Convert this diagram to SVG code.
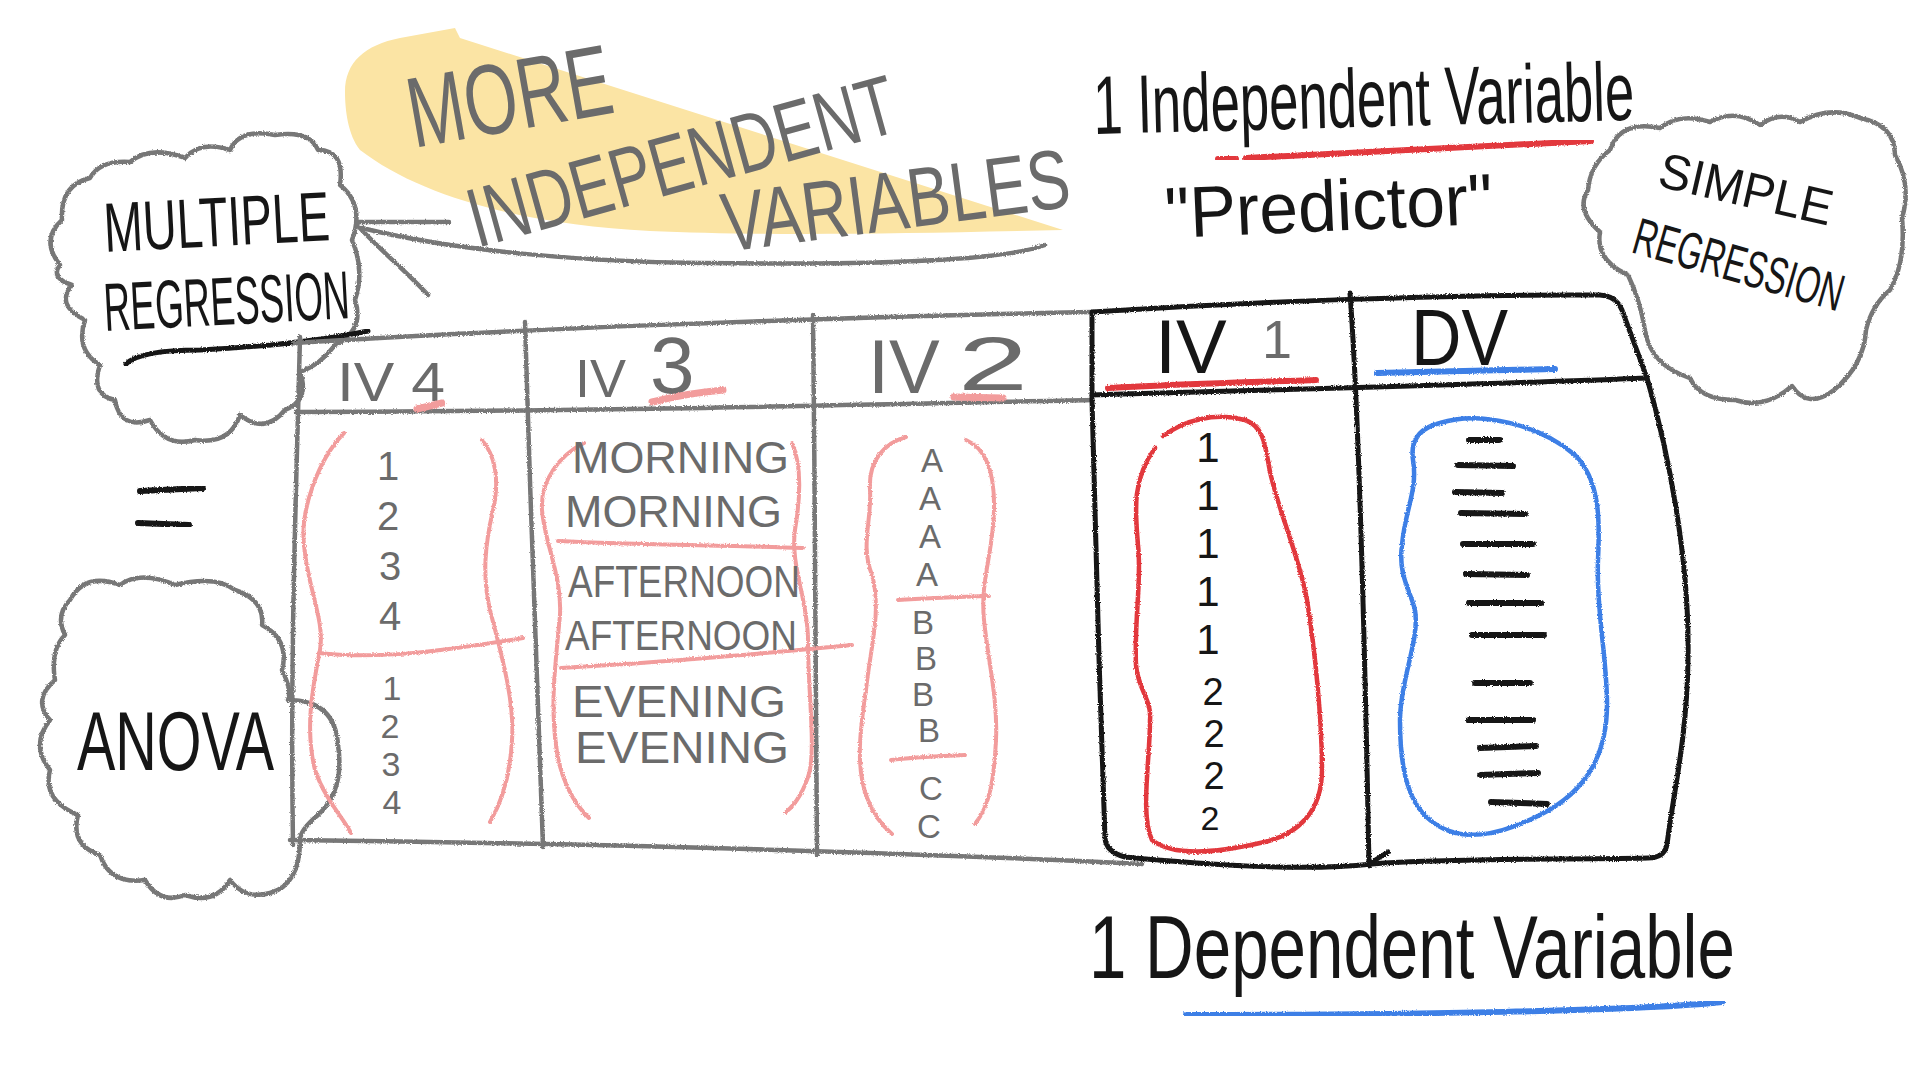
<svg xmlns="http://www.w3.org/2000/svg" width="1920" height="1080" viewBox="0 0 1920 1080">
<defs>
<filter id="pencil" x="-5%" y="-5%" width="110%" height="110%">
<feTurbulence type="fractalNoise" baseFrequency="0.9" numOctaves="2" seed="3" result="n"/>
<feDisplacementMap in="SourceGraphic" in2="n" scale="3" xChannelSelector="R" yChannelSelector="G"/>
</filter>
<style>
.g{fill:none;stroke:#777;stroke-width:4.5;stroke-linecap:round;stroke-linejoin:round}
.k{fill:none;stroke:#161616;stroke-width:5;stroke-linecap:round;stroke-linejoin:round}
.pink{fill:none;stroke:#f29c9c;stroke-width:4;stroke-linecap:round;stroke-linejoin:round}
.red{fill:none;stroke:#e2383e;stroke-width:4.5;stroke-linecap:round;stroke-linejoin:round}
.blue{fill:none;stroke:#3c7fe6;stroke-width:4.5;stroke-linecap:round;stroke-linejoin:round}
.dash{fill:none;stroke:#161616;stroke-width:6;stroke-linecap:round}
.t{font-family:"Liberation Sans",Arial,sans-serif}
.tg{fill:#6b6b6b}
.tk{fill:#161616}
</style>
</defs>
<rect width="1920" height="1080" fill="#ffffff"/>

<g id="highlight">
<path d="M 345,92 C 345,62 365,45 400,38 L 455,28 L 460,38 L 1063,230 C 900,234 760,236 650,231 C 520,224 420,196 360,150 C 348,135 345,110 345,92 Z" fill="#fbe4a4"/>
</g>

<g id="label-more-iv" class="t tg">
<text transform="translate(414,148) rotate(-10)" font-size="100" textLength="206" lengthAdjust="spacingAndGlyphs">MORE</text>
<text transform="translate(477,248) rotate(-15.5)" font-size="84" textLength="441" lengthAdjust="spacingAndGlyphs">INDEPENDENT</text>
<text transform="translate(726,252) rotate(-7.5)" font-size="84" textLength="350" lengthAdjust="spacingAndGlyphs">VARIABLES</text>
</g>

<g id="connectors" filter="url(#pencil)">
<path class="g" d="M 1045,245 C 1000,262 850,265 700,263 C 580,262 450,250 362,228"/>
<path class="g" d="M 358,222 L 449,222"/>
<path class="g" d="M 358,226 C 380,250 410,275 428,295"/>
</g>

<g id="cloud-multiple-regression">
<path class="g" filter="url(#pencil)" d="M 60,265 Q 40,240 62,220 Q 60,185 90,178 Q 100,160 130,162 Q 150,145 185,158 Q 200,140 230,150 Q 240,128 275,135 Q 310,130 318,150 Q 345,150 340,185 Q 365,205 352,240 Q 365,270 355,300 Q 365,330 335,345 Q 320,365 300,372 Q 310,400 285,410 Q 265,435 240,415 Q 230,445 195,440 Q 165,448 150,420 Q 120,430 115,400 Q 90,395 100,365 Q 75,350 85,320 Q 55,305 72,285 Q 50,278 60,265 Z"/>
<text class="t tk" transform="translate(105,252) rotate(-3)" font-size="70" textLength="226" lengthAdjust="spacingAndGlyphs">MULTIPLE</text>
<text class="t tk" transform="translate(105,331) rotate(-3)" font-size="68" textLength="246" lengthAdjust="spacingAndGlyphs">REGRESSION</text>
<path class="k" filter="url(#pencil)" d="M 126,364 Q 140,350 200,350 Q 300,345 368,331"/>
</g>

<g id="cloud-simple-regression">
<path class="g" filter="url(#pencil)" d="M 1610,150 Q 1620,120 1660,128 Q 1680,112 1710,122 Q 1735,108 1760,125 Q 1780,110 1800,122 Q 1830,105 1860,118 Q 1895,125 1895,155 Q 1912,185 1902,218 Q 1906,262 1890,290 Q 1872,305 1866,330 Q 1864,365 1834,390 Q 1808,410 1792,386 Q 1765,410 1735,400 Q 1700,400 1690,378 Q 1650,365 1645,330 Q 1640,300 1628,275 Q 1595,260 1600,232 Q 1575,210 1588,190 Q 1590,165 1610,150 Z"/>
<text class="t tk" transform="translate(1656,186) rotate(13)" font-size="50" textLength="177" lengthAdjust="spacingAndGlyphs">SIMPLE</text>
<text class="t tk" transform="translate(1630,252) rotate(16) scale(1,1.3)" font-size="40" textLength="216" lengthAdjust="spacingAndGlyphs">REGRESSION</text>
</g>

<g id="cloud-anova">
<path class="g" filter="url(#pencil)" d="M 70,600 Q 85,572 120,585 Q 140,570 175,585 Q 215,575 235,590 Q 265,600 262,625 Q 290,640 282,670 Q 292,690 288,700 Q 335,700 338,745 Q 345,790 318,815 Q 300,830 300,840 Q 300,885 270,893 Q 245,900 230,880 Q 215,905 185,895 Q 160,905 145,880 Q 110,885 100,855 Q 70,845 78,815 Q 42,800 50,770 Q 30,745 50,720 Q 32,700 55,680 Q 50,650 65,635 Q 55,615 70,600 Z"/>
<text class="t tk" x="77" y="770" font-size="84" textLength="197" lengthAdjust="spacingAndGlyphs">ANOVA</text>
</g>

<g id="equals" filter="url(#pencil)">
<path class="k" style="stroke-width:6" d="M 140,491 L 203,488 M 138,523 L 189,525"/>
</g>

<g id="label-independent">
<text class="t tk" transform="translate(1094,134) rotate(-1.5) scale(1,1.12)" font-size="74" textLength="541" lengthAdjust="spacingAndGlyphs">1 Independent Variable</text>
<g filter="url(#pencil)">
<path class="red" style="stroke-width:6" d="M 1218,159 L 1236,159 M 1246,158 C 1380,152 1490,147 1591,141"/>
</g>
<text class="t tk" transform="translate(1166,238) rotate(-2.5)" font-size="72" textLength="328" lengthAdjust="spacingAndGlyphs">"Predictor"</text>
</g>

<g id="table-iv-columns" filter="url(#pencil)">
<path class="g" d="M 294,343 C 500,330 800,318 1092,312"/>
<path class="g" d="M 296,412 C 550,412 850,405 1092,400"/>
<path class="g" d="M 300,337 C 296,500 290,650 293,845"/>
<path class="g" d="M 525,322 C 530,500 538,700 543,847"/>
<path class="g" d="M 813,315 C 815,500 816,700 817,855"/>
<path class="g" d="M 290,840 C 550,843 850,850 1142,864"/>
</g>

<g id="column-iv4">
<text class="t tg" x="337" y="401" font-size="56" textLength="108" lengthAdjust="spacingAndGlyphs">IV 4</text>
<g filter="url(#pencil)">
<path class="pink" style="stroke-width:7" d="M 417,409 L 442,403"/>
<path class="pink" d="M 344,433 C 318,460 300,510 304,545 C 308,590 325,620 320,650 C 312,690 305,730 315,770 C 325,800 345,820 351,833"/>
<path class="pink" d="M 482,440 C 495,455 500,480 493,510 C 485,545 482,575 490,610 C 500,650 515,700 512,740 C 510,780 500,805 490,822"/>
<path class="pink" d="M 319,653 C 380,660 450,650 523,638"/>
</g>
<g class="t tg" font-size="40" text-anchor="middle">
<text x="388" y="480">1</text>
<text x="388" y="530">2</text>
<text x="390" y="580">3</text>
<text x="390" y="630">4</text>
<text x="392" y="700" font-size="34">1</text>
<text x="390" y="738" font-size="34">2</text>
<text x="391" y="776" font-size="34">3</text>
<text x="392" y="814" font-size="34">4</text>
</g>
</g>

<g id="column-iv3">
<text class="t tg" font-size="54"><tspan x="575" y="397">IV</tspan><tspan x="650" y="393" font-size="80">3</tspan></text>
<g filter="url(#pencil)">
<path class="pink" style="stroke-width:7" d="M 652,402 C 680,395 700,392 723,390"/>
<path class="pink" d="M 584,443 C 560,455 540,480 542,510 C 545,545 562,575 560,615 C 556,660 550,700 556,745 C 560,780 575,805 589,818"/>
<path class="pink" d="M 792,443 C 802,465 800,500 795,530 C 790,565 808,600 808,640 C 808,690 815,740 810,770 C 805,790 795,805 786,812"/>
<path class="pink" d="M 558,541 C 640,545 720,545 803,548"/>
<path class="pink" d="M 561,668 C 650,663 760,654 852,645"/>
</g>
<g class="t tg" font-size="44">
<text x="572" y="473" textLength="217" lengthAdjust="spacingAndGlyphs">MORNING</text>
<text x="565" y="527" textLength="217" lengthAdjust="spacingAndGlyphs">MORNING</text>
<text x="568" y="597" textLength="232" lengthAdjust="spacingAndGlyphs">AFTERNOON</text>
<text x="565" y="650" font-size="42" textLength="232" lengthAdjust="spacingAndGlyphs">AFTERNOON</text>
<text x="572" y="717" textLength="214" lengthAdjust="spacingAndGlyphs">EVENING</text>
<text x="575" y="763" textLength="214" lengthAdjust="spacingAndGlyphs">EVENING</text>
</g>
</g>

<g id="column-iv2">
<text class="t tg" font-size="76"><tspan x="868" y="393">IV</tspan><tspan x="958" y="390" textLength="70" lengthAdjust="spacingAndGlyphs">2</tspan></text>
<g filter="url(#pencil)">
<path class="pink" style="stroke-width:7" d="M 954,397 L 1003,398"/>
<path class="pink" d="M 906,437 C 885,443 868,460 870,490 C 872,520 860,545 872,575 C 882,610 870,650 866,690 C 860,730 855,770 868,800 C 875,818 885,828 892,834"/>
<path class="pink" d="M 966,440 C 985,448 995,470 994,510 C 993,555 980,580 984,620 C 988,660 998,700 996,740 C 994,780 990,805 975,824"/>
<path class="pink" d="M 898,600 C 930,598 960,597 989,596"/>
<path class="pink" d="M 891,760 C 915,757 945,756 965,755"/>
</g>
<g class="t tg" font-size="33" text-anchor="middle">
<text x="932" y="472">A</text>
<text x="930" y="510">A</text>
<text x="930" y="548">A</text>
<text x="927" y="586">A</text>
<text x="923" y="634">B</text>
<text x="926" y="670">B</text>
<text x="923" y="706">B</text>
<text x="929" y="742">B</text>
<text x="931" y="800">C</text>
<text x="929" y="838">C</text>
</g>
</g>

<g id="table-iv1-dv" filter="url(#pencil)">
<path class="k" d="M 1092,312 C 1250,302 1450,294 1600,295 Q 1616,296 1622,310 L 1647,378 C 1668,450 1690,560 1688,660 C 1687,740 1672,800 1667,845 Q 1664,858 1648,858 C 1550,860 1450,858 1372,864 C 1300,872 1200,864 1125,857 Q 1106,852 1105,838 C 1100,700 1094,500 1092,400 Z"/>
<path class="k" d="M 1092,395 C 1250,390 1450,386 1647,378"/>
<path class="k" d="M 1350,293 C 1358,400 1364,600 1369,866 M 1369,864 L 1388,852"/>
</g>

<g id="column-iv1">
<text class="t" font-size="76"><tspan class="tk" x="1155" y="373">IV</tspan><tspan class="tg" x="1262" y="358" font-size="54">1</tspan></text>
<g filter="url(#pencil)">
<path class="red" style="stroke-width:6" d="M 1108,388 C 1180,384 1260,382 1316,380"/>
<path class="red" d="M 1163,436 C 1185,420 1215,412 1245,420 C 1268,428 1265,455 1272,480 C 1282,520 1300,560 1307,600 C 1315,650 1322,720 1322,770 C 1322,810 1300,835 1260,843 C 1220,852 1175,858 1152,840 C 1140,815 1150,760 1150,720 C 1152,700 1138,690 1136,665 C 1134,620 1142,580 1138,545 C 1135,510 1132,480 1155,448"/>
</g>
<g class="t tk" font-size="42" text-anchor="middle">
<text x="1208" y="462">1</text>
<text x="1208" y="510">1</text>
<text x="1208" y="558">1</text>
<text x="1208" y="606">1</text>
<text x="1208" y="654">1</text>
<text x="1213" y="705" font-size="38">2</text>
<text x="1214" y="747" font-size="38">2</text>
<text x="1214" y="789" font-size="38">2</text>
<text x="1210" y="830" font-size="34">2</text>
</g>
</g>

<g id="column-dv">
<text class="t tk" x="1411" y="365" font-size="80" textLength="97" lengthAdjust="spacingAndGlyphs">DV</text>
<g filter="url(#pencil)">
<path class="blue" style="stroke-width:6" d="M 1377,373 L 1555,369"/>
<path class="blue" d="M 1440,423 C 1480,410 1540,425 1575,455 C 1600,480 1600,520 1598,560 C 1596,610 1606,650 1607,700 C 1608,750 1590,790 1540,815 C 1500,835 1460,845 1430,820 C 1405,800 1400,760 1400,720 C 1400,680 1420,640 1415,610 C 1410,590 1398,575 1402,545 C 1405,510 1418,490 1413,460 C 1410,440 1420,428 1440,423 Z"/>
<path class="dash" d="M 1469,440 L 1500,440 M 1458,465 L 1513,466 M 1455,492 L 1502,493 M 1461,513 L 1525,514 M 1463,544 L 1533,544 M 1466,574 L 1527,575 M 1469,603 L 1541,603 M 1472,635 L 1544,635 M 1475,683 L 1530,683 M 1469,720 L 1533,720 M 1480,748 L 1536,746 M 1480,775 L 1538,773 M 1491,802 L 1547,804"/>
</g>
</g>

<g id="label-dependent">
<text class="t tk" transform="translate(1089,978) scale(1,1.06)" font-size="84" textLength="646" lengthAdjust="spacingAndGlyphs">1 Dependent Variable</text>
<g filter="url(#pencil)">
<path class="blue" style="stroke-width:6" d="M 1186,1015 C 1400,1015 1640,1011 1722,1002"/>
</g>
</g>
</svg>
